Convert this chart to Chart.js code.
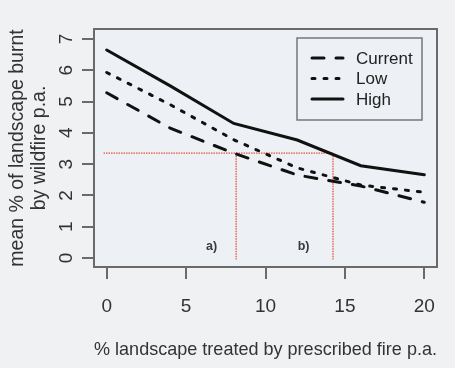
<!DOCTYPE html>
<html>
<head>
<meta charset="utf-8">
<script src="https://cdn.jsdelivr.net/npm/chart.js@4/dist/chart.umd.min.js"></script>
<style>
  html, body { margin: 0; padding: 0; background: #f0f1f3; }
  #wrap { width: 455px; height: 368px; }
</style>
</head>
<body>
<div id="wrap"><canvas id="chart" width="455" height="368"></canvas></div>
<script>
// values
const treated = [0, 4, 8, 12, 16, 20];
const currentBurnt = [5.28, 4.15, 3.35, 2.65, 2.3, 1.78];
const lowBurnt = [5.93, 4.9, 3.78, 2.88, 2.33, 2.1];
const highBurnt = [6.65, 5.5, 4.3, 3.77, 2.95, 2.66];

const xTicks = [0, 5, 10, 15, 20];
const yTicks = [0, 1, 2, 3, 4, 5, 6, 7];

// red reference lines
const refLevel = 3.35;
const refStart = -0.2;
const refA = 8.15;
const refB = 14.25;
const refBottom = -0.05;

const notes = ['a)', 'b)'];
const noteX = [6.6, 12.4];
const noteY = 0.36;

const FONT = "'Liberation Sans', Arial, sans-serif";
const RED = '#e4533f';

const toPoints = (xs, ys) => xs.map((x, i) => ({ x: x, y: ys[i] }));

const seriesStyle = (label, values, dash) => ({
  label: label,
  data: toPoints(treated, values),
  borderColor: '#111',
  borderWidth: 3,
  borderDash: dash,
  borderCapStyle: 'round',
  pointRadius: 0,
  tension: 0,
});

const refStyle = (points) => ({
  label: '',
  data: points,
  borderColor: RED,
  borderWidth: 1.3,
  borderDash: [1.5, 1],
  pointRadius: 0,
  isRef: true,
});

// backgrounds, frame, notes and the in-plot legend
const decor = {
  id: 'decor',
  beforeDraw(chart) {
    const { ctx, chartArea: a } = chart;
    ctx.save();
    ctx.fillStyle = '#f0f1f3';
    ctx.fillRect(0, 0, chart.width, chart.height);
    ctx.fillStyle = '#edf0f4';
    ctx.fillRect(a.left, a.top, a.right - a.left, a.bottom - a.top);
    ctx.restore();
  },
  afterDatasetsDraw(chart) {
    const { ctx, chartArea: a, scales } = chart;
    ctx.save();
    // frame
    ctx.strokeStyle = '#6a6a6a';
    ctx.lineWidth = 2;
    ctx.strokeRect(a.left, a.top, a.right - a.left, a.bottom - a.top);

    // a) / b)
    ctx.fillStyle = '#3a3a3a';
    ctx.font = "bold 12.5px " + FONT;
    ctx.textAlign = 'center';
    ctx.textBaseline = 'middle';
    notes.forEach((t, i) => {
      ctx.fillText(t, scales.x.getPixelForValue(noteX[i]), scales.y.getPixelForValue(noteY));
    });

    // legend
    const bx = a.right - 140, by = a.top + 9, bw = 125, bh = 82;
    ctx.fillStyle = '#edf0f4';
    ctx.fillRect(bx, by, bw, bh);
    ctx.strokeStyle = '#777';
    ctx.lineWidth = 1.5;
    ctx.strokeRect(bx, by, bw, bh);
    ctx.font = "17px " + FONT;
    ctx.textAlign = 'left';
    chart.data.datasets.filter((d) => !d.isRef).forEach((d, i) => {
      const y = by + 20 + i * 20.5;
      ctx.strokeStyle = '#111';
      ctx.lineWidth = 3;
      ctx.lineCap = 'round';
      ctx.setLineDash(d.borderDash || []);
      ctx.beginPath();
      ctx.moveTo(bx + 15, y);
      ctx.lineTo(bx + 46, y);
      ctx.stroke();
      ctx.setLineDash([]);
      ctx.fillStyle = '#222';
      ctx.fillText(d.label, bx + 59, y + 1);
    });
    ctx.restore();
  },
};

new Chart(document.getElementById('chart'), {
  type: 'line',
  data: {
    datasets: [
      seriesStyle('Current', currentBurnt, [12, 12]),
      seriesStyle('Low', lowBurnt, [3, 9]),
      seriesStyle('High', highBurnt, []),
      refStyle([{ x: refStart, y: refLevel }, { x: refB, y: refLevel }]),
      refStyle([{ x: refA, y: refLevel }, { x: refA, y: refBottom }]),
      refStyle([{ x: refB, y: refLevel }, { x: refB, y: refBottom }]),
    ],
  },
  options: {
    responsive: false,
    animation: false,
    layout: { padding: { left: 0, top: 29, right: 18, bottom: 0 } },
    plugins: {
      legend: { display: false },
      tooltip: { enabled: false },
    },
    scales: {
      x: {
        type: 'linear',
        min: -0.8,
        max: 20.8,
        afterBuildTicks: (scale) => { scale.ticks = xTicks.map((v) => ({ value: v })); },
        afterFit: (scale) => { scale.height = 101; },
        grid: { drawOnChartArea: false, drawTicks: true, tickLength: 12, color: '#6a6a6a', lineWidth: 2 },
        border: { display: true, color: '#6a6a6a', width: 2 },
        ticks: { color: '#333', font: { family: FONT, size: 19 }, padding: 16, maxRotation: 0, autoSkip: false },
        title: {
          display: true,
          text: '% landscape treated by prescribed fire p.a.',
          color: '#333',
          font: { family: FONT, size: 19, lineHeight: 1.2 },
          padding: { top: 0, bottom: 7 },
        },
      },
      y: {
        min: -0.29,
        max: 7.32,
        afterBuildTicks: (scale) => { scale.ticks = yTicks.map((v) => ({ value: v })); },
        afterFit: (scale) => { scale.width = 94; },
        grid: { drawOnChartArea: false, drawTicks: true, tickLength: 12, color: '#6a6a6a', lineWidth: 2 },
        border: { display: true, color: '#6a6a6a', width: 2 },
        ticks: {
          color: '#333',
          font: { family: FONT, size: 19 },
          padding: 10,
          minRotation: 90,
          maxRotation: 90,
          crossAlign: 'center',
          autoSkip: false,
        },
        title: {
          display: true,
          text: ['mean % of landscape burnt', 'by wildfire p.a.'],
          color: '#333',
          font: { family: FONT, size: 19.5, lineHeight: 1.13 },
          padding: { top: 7, bottom: 0 },
        },
      },
    },
  },
  plugins: [decor],
});
</script>
</body>
</html>
